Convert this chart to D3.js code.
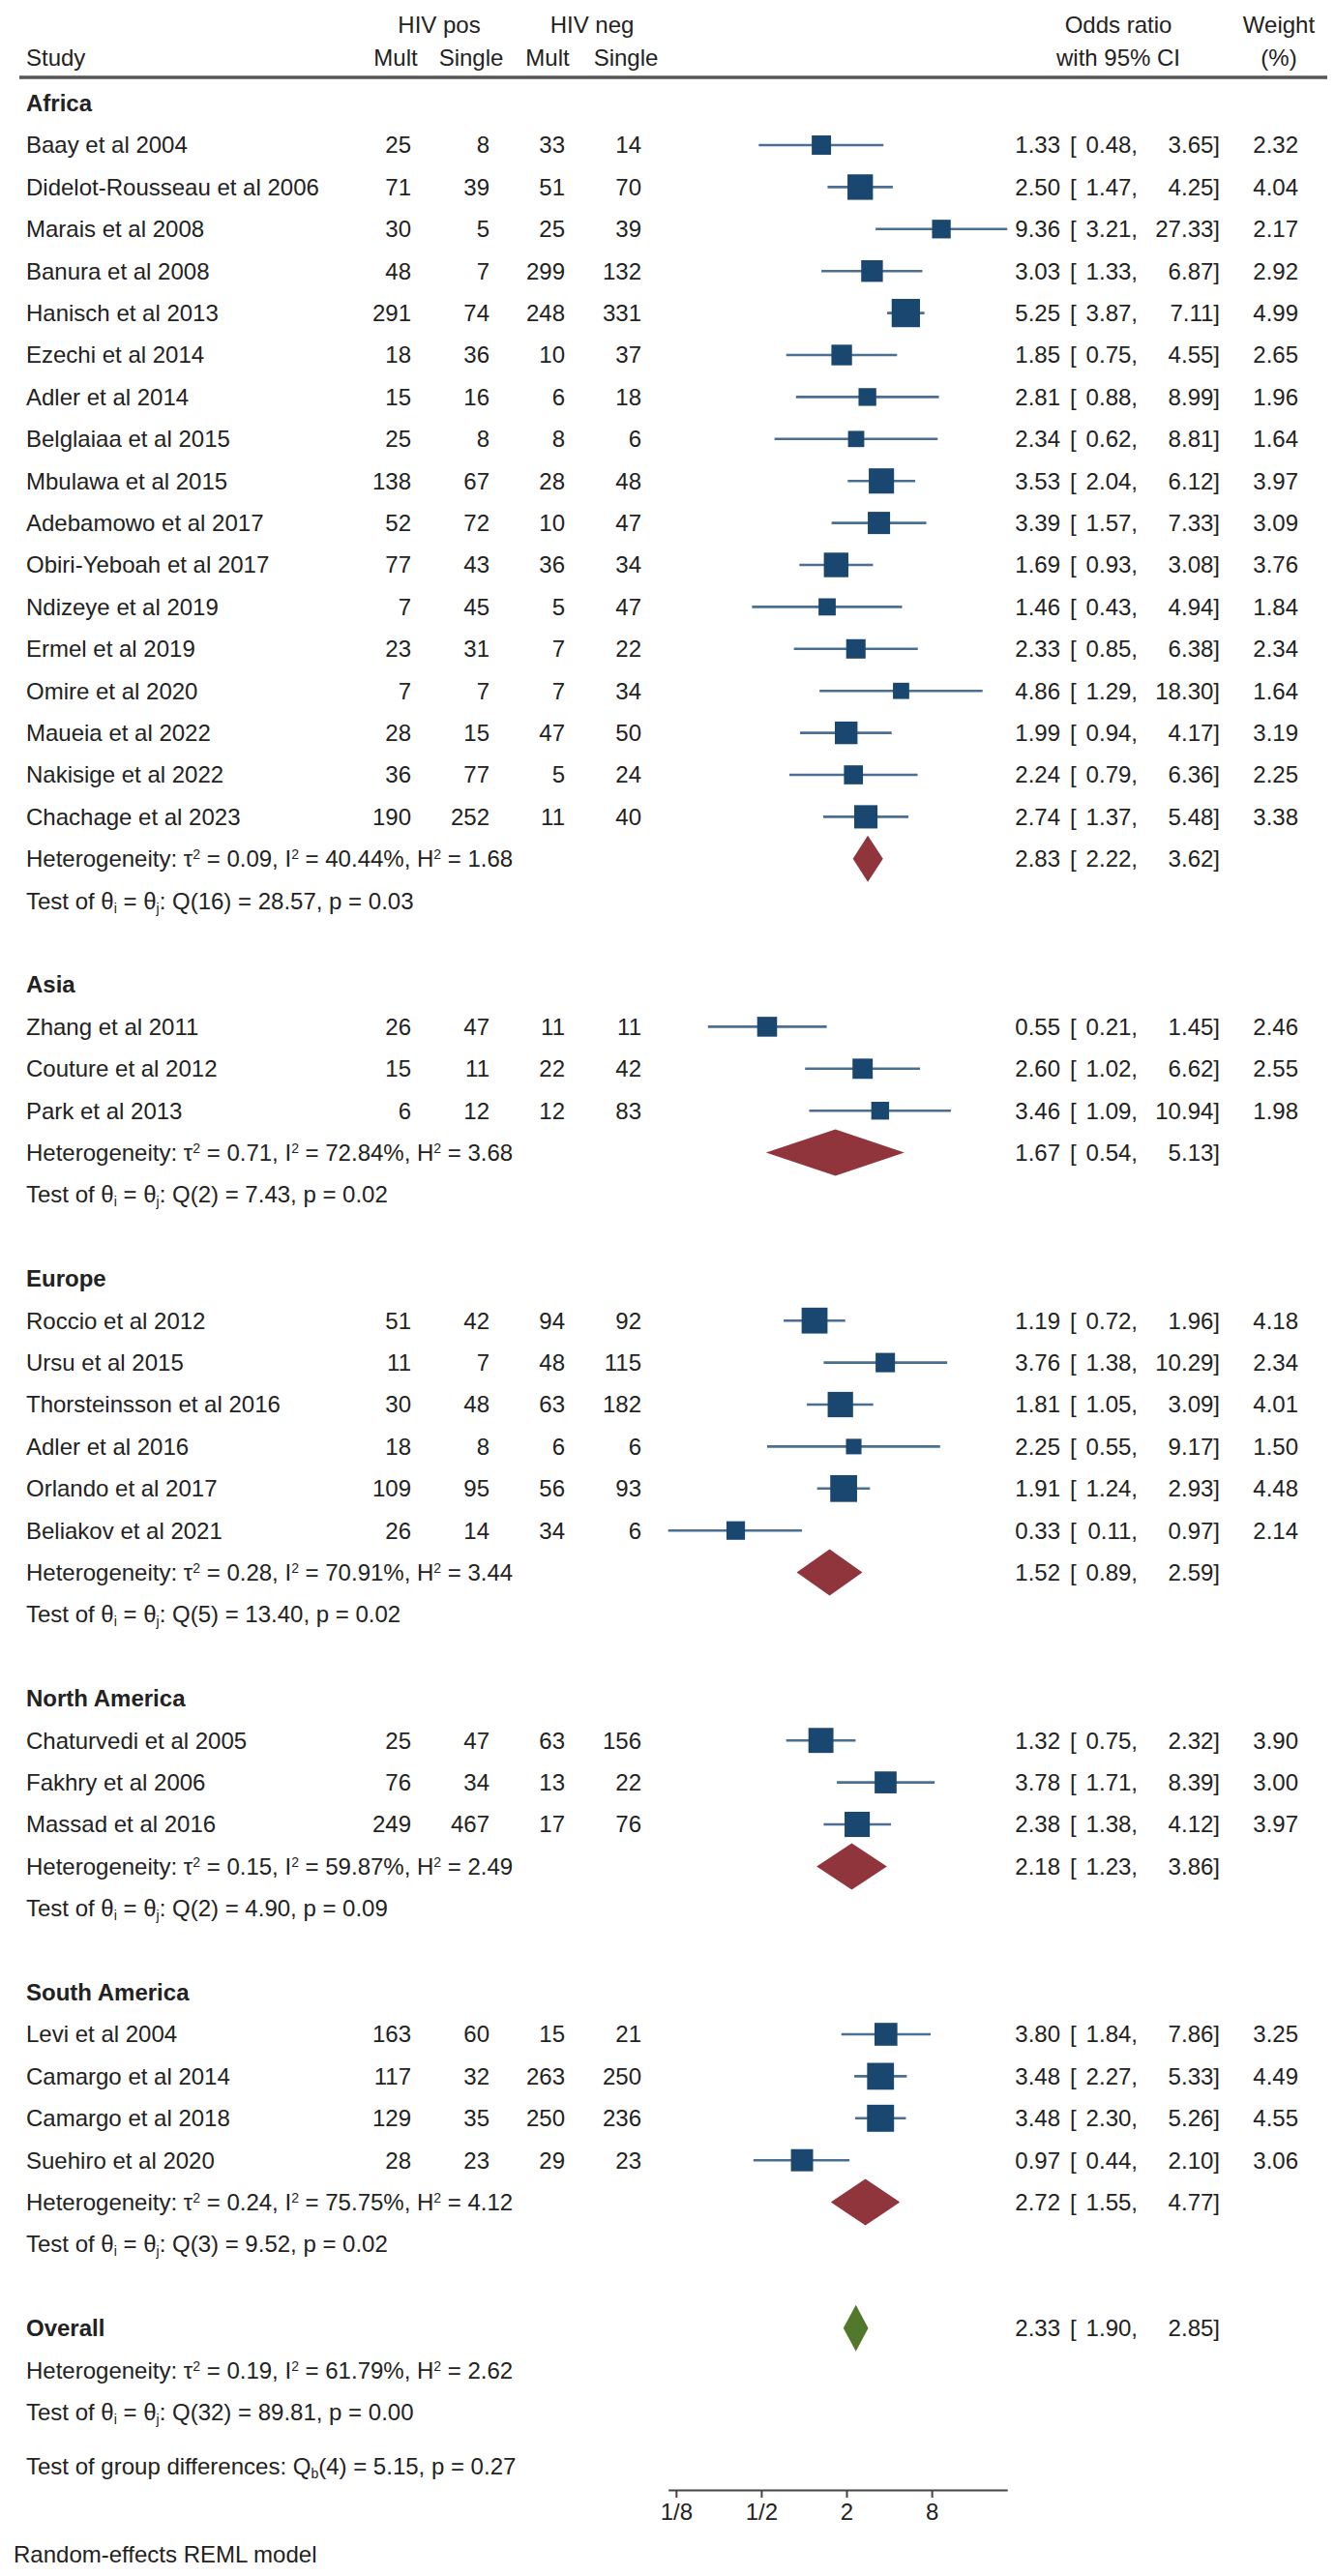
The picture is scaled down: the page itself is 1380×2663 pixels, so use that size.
<!DOCTYPE html>
<html>
<head>
<meta charset="utf-8">
<script src="https://cdn.jsdelivr.net/npm/d3@7"></script>
<style>
  html, body { margin: 0; padding: 0; background: #fff; }
  svg text { font-family: "Liberation Sans", Arial, Helvetica, sans-serif; fill: #222; }
</style>
</head>
<body>
<svg id="chart" width="1380" height="2663"></svg>
<script>
// ---------------- DATA ----------------
const groupNames = ["Africa", "Asia", "Europe", "North America", "South America"];

const studies = [
  "Baay et al 2004", "Didelot-Rousseau et al 2006", "Marais et al 2008", "Banura et al 2008",
  "Hanisch et al 2013", "Ezechi et al 2014", "Adler et al 2014", "Belglaiaa et al 2015",
  "Mbulawa et al 2015", "Adebamowo et al 2017", "Obiri-Yeboah et al 2017", "Ndizeye et al 2019",
  "Ermel et al 2019", "Omire et al 2020", "Maueia et al 2022", "Nakisige et al 2022",
  "Chachage et al 2023",
  "Zhang et al 2011", "Couture et al 2012", "Park et al 2013",
  "Roccio et al 2012", "Ursu et al 2015", "Thorsteinsson et al 2016", "Adler et al 2016",
  "Orlando et al 2017", "Beliakov et al 2021",
  "Chaturvedi et al 2005", "Fakhry et al 2006", "Massad et al 2016",
  "Levi et al 2004", "Camargo et al 2014", "Camargo et al 2018", "Suehiro et al 2020"
];
const studyGroup = [
  0,0,0,0,0,0,0,0,0,0,0,0,0,0,0,0,0,
  1,1,1,
  2,2,2,2,2,2,
  3,3,3,
  4,4,4,4
];
const hivPosMult   = [25,71,30,48,291,18,15,25,138,52,77,7,23,7,28,36,190, 26,15,6, 51,11,30,18,109,26, 25,76,249, 163,117,129,28];
const hivPosSingle = [8,39,5,7,74,36,16,8,67,72,43,45,31,7,15,77,252, 47,11,12, 42,7,48,8,95,14, 47,34,467, 60,32,35,23];
const hivNegMult   = [33,51,25,299,248,10,6,8,28,10,36,5,7,7,47,5,11, 11,22,12, 94,48,63,6,56,34, 63,13,17, 15,263,250,29];
const hivNegSingle = [14,70,39,132,331,37,18,6,48,47,34,47,22,34,50,24,40, 11,42,83, 92,115,182,6,93,6, 156,22,76, 21,250,236,23];
const oddsRatio = [1.33,2.50,9.36,3.03,5.25,1.85,2.81,2.34,3.53,3.39,1.69,1.46,2.33,4.86,1.99,2.24,2.74, 0.55,2.60,3.46, 1.19,3.76,1.81,2.25,1.91,0.33, 1.32,3.78,2.38, 3.80,3.48,3.48,0.97];
const ciLower   = [0.48,1.47,3.21,1.33,3.87,0.75,0.88,0.62,2.04,1.57,0.93,0.43,0.85,1.29,0.94,0.79,1.37, 0.21,1.02,1.09, 0.72,1.38,1.05,0.55,1.24,0.11, 0.75,1.71,1.38, 1.84,2.27,2.30,0.44];
const ciUpper   = [3.65,4.25,27.33,6.87,7.11,4.55,8.99,8.81,6.12,7.33,3.08,4.94,6.38,18.30,4.17,6.36,5.48, 1.45,6.62,10.94, 1.96,10.29,3.09,9.17,2.93,0.97, 2.32,8.39,4.12, 7.86,5.33,5.26,2.10];
const weightPct = [2.32,4.04,2.17,2.92,4.99,2.65,1.96,1.64,3.97,3.09,3.76,1.84,2.34,1.64,3.19,2.25,3.38, 2.46,2.55,1.98, 4.18,2.34,4.01,1.50,4.48,2.14, 3.90,3.00,3.97, 3.25,4.49,4.55,3.06];

const groupOR    = [2.83, 1.67, 1.52, 2.18, 2.72];
const groupLower = [2.22, 0.54, 0.89, 1.23, 1.55];
const groupUpper = [3.62, 5.13, 2.59, 3.86, 4.77];
const groupTau2  = ["0.09", "0.71", "0.28", "0.15", "0.24"];
const groupI2    = ["40.44", "72.84", "70.91", "59.87", "75.75"];
const groupH2    = ["1.68", "3.68", "3.44", "2.49", "4.12"];
const groupQdf   = [16, 2, 5, 2, 3];
const groupQ     = ["28.57", "7.43", "13.40", "4.90", "9.52"];
const groupP     = ["0.03", "0.02", "0.02", "0.09", "0.02"];

const overallOR = 2.33, overallLower = 1.90, overallUpper = 2.85;
const overallTau2 = "0.19", overallI2 = "61.79", overallH2 = "2.62";
const overallQdf = 32, overallQ = "89.81", overallP = "0.00";
const groupDiffDf = 4, groupDiffQ = "5.15", groupDiffP = "0.27";

const tickValues = [0.125, 0.5, 2, 8];
const tickLabels = ["1/8", "1/2", "2", "8"];

// ---------------- LAYOUT ----------------
const svg = d3.select("#chart");
const FS = 24;
const navy = "#1a476f";
const ciColor = "#4b6e93";
const maroon = "#90353b";
const green = "#52792b";

const x = d3.scaleLog().domain([0.11, 27.33]).range([690.7, 1041.2]);
const rowPitch = 43.4;
const y = d3.scaleLinear().domain([0, 1]).range([150, 150 + rowPitch]);

const colX = { study: 27, posMult: 425, posSingle: 506, negMult: 584, negSingle: 663,
               or: 1096, brk: 1106, lo: 1176, hi: 1261, w: 1342 };

// Build rows
const rows = [];
let idx = -1;
groupNames.forEach((g, gi) => {
  rows.push({ type: "header", label: g, i: idx }); idx++;
  studies.forEach((s, si) => {
    if (studyGroup[si] === gi) { rows.push({ type: "study", si, i: idx }); idx++; }
  });
  rows.push({ type: "het", gi, i: idx }); idx++;
  rows.push({ type: "test", gi, i: idx }); idx++;
  idx++; // blank
});
rows.push({ type: "overallHeader", i: idx }); idx++;
rows.push({ type: "overallHet", i: idx }); idx++;
rows.push({ type: "overallTest", i: idx }); idx++;
const groupDiffIdx = idx + 0.3;

function txt(xp, yp, s, anchor, weight) {
  return svg.append("text").attr("x", xp).attr("y", yp).attr("dy", "0.35em")
    .attr("font-size", FS).attr("text-anchor", anchor || "start")
    .attr("font-weight", weight || "normal").text(s);
}

// Header
txt(colX.study, 60, "Study");
txt(454, 26, "HIV pos", "middle");
txt(612, 26, "HIV neg", "middle");
txt(409, 60, "Mult", "middle");
txt(487, 60, "Single", "middle");
txt(566, 60, "Mult", "middle");
txt(647, 60, "Single", "middle");
txt(1156, 26, "Odds ratio", "middle");
txt(1156, 60, "with 95% CI", "middle");
txt(1322, 26, "Weight", "middle");
txt(1322, 60, "(%)", "middle");
svg.append("line").attr("x1", 20).attr("x2", 1372).attr("y1", 80).attr("y2", 80)
  .attr("stroke", "#555").attr("stroke-width", 3.5);

function ciText(yp, or, lo, hi) {
  txt(colX.or, yp, or.toFixed(2), "end");
  txt(colX.brk, yp, "[", "start");
  txt(colX.lo, yp, lo.toFixed(2) + ",", "end");
  txt(colX.hi, yp, hi.toFixed(2) + "]", "end");
}

function hetText(yp, tau2, i2, h2) {
  const t = svg.append("text").attr("x", colX.study).attr("y", yp).attr("dy", "0.35em").attr("font-size", FS);
  t.append("tspan").text("Heterogeneity: \u03c4");
  t.append("tspan").attr("font-size", 14).attr("baseline-shift", "60%").text("2");
  t.append("tspan").text(" = " + tau2 + ", I");
  t.append("tspan").attr("font-size", 14).attr("baseline-shift", "60%").text("2");
  t.append("tspan").text(" = " + i2 + "%, H");
  t.append("tspan").attr("font-size", 14).attr("baseline-shift", "60%").text("2");
  t.append("tspan").text(" = " + h2);
}
function testText(yp, df, q, p) {
  const t = svg.append("text").attr("x", colX.study).attr("y", yp).attr("dy", "0.35em").attr("font-size", FS);
  t.append("tspan").text("Test of \u03b8");
  t.append("tspan").attr("font-size", 14).attr("baseline-shift", "-25%").text("i");
  t.append("tspan").text(" = \u03b8");
  t.append("tspan").attr("font-size", 14).attr("baseline-shift", "-25%").text("j");
  t.append("tspan").text(": Q(" + df + ") = " + q + ", p = " + p);
}
function diamond(yp, lo, est, hi, color) {
  const h = 24;
  const pts = [[x(lo), yp], [x(est), yp - h], [x(hi), yp], [x(est), yp + h]];
  svg.append("path").attr("d", "M" + pts.map(p => p.join(",")).join("L") + "Z").attr("fill", color);
}

rows.forEach(r => {
  const yp = y(r.i);
  if (r.type === "header") {
    txt(colX.study, yp, r.label, "start", "bold");
  } else if (r.type === "study") {
    const s = r.si;
    txt(colX.study, yp, studies[s]);
    txt(colX.posMult, yp, hivPosMult[s], "end");
    txt(colX.posSingle, yp, hivPosSingle[s], "end");
    txt(colX.negMult, yp, hivNegMult[s], "end");
    txt(colX.negSingle, yp, hivNegSingle[s], "end");
    svg.append("line").attr("x1", x(ciLower[s])).attr("x2", x(ciUpper[s]))
      .attr("y1", yp).attr("y2", yp).attr("stroke", ciColor).attr("stroke-width", 2.6);
    const side = 13.1 * Math.sqrt(weightPct[s]);
    svg.append("rect").attr("x", x(oddsRatio[s]) - side / 2).attr("y", yp - side / 2)
      .attr("width", side).attr("height", side).attr("fill", navy);
    ciText(yp, oddsRatio[s], ciLower[s], ciUpper[s]);
    txt(colX.w, yp, weightPct[s].toFixed(2), "end");
  } else if (r.type === "het") {
    const g = r.gi;
    hetText(yp, groupTau2[g], groupI2[g], groupH2[g]);
    diamond(yp, groupLower[g], groupOR[g], groupUpper[g], maroon);
    ciText(yp, groupOR[g], groupLower[g], groupUpper[g]);
  } else if (r.type === "test") {
    const g = r.gi;
    testText(yp, groupQdf[g], groupQ[g], groupP[g]);
  } else if (r.type === "overallHeader") {
    txt(colX.study, yp, "Overall", "start", "bold");
    diamond(yp, overallLower, overallOR, overallUpper, green);
    ciText(yp, overallOR, overallLower, overallUpper);
  } else if (r.type === "overallHet") {
    hetText(yp, overallTau2, overallI2, overallH2);
  } else if (r.type === "overallTest") {
    testText(yp, overallQdf, overallQ, overallP);
  }
});

// Group differences
{
  const yp = y(groupDiffIdx);
  const t = svg.append("text").attr("x", colX.study).attr("y", yp).attr("dy", "0.35em").attr("font-size", FS);
  t.append("tspan").text("Test of group differences: Q");
  t.append("tspan").attr("font-size", 14).attr("baseline-shift", "-25%").text("b");
  t.append("tspan").text("(" + groupDiffDf + ") = " + groupDiffQ + ", p = " + groupDiffP);
}

// Axis
const axisY = 2574;
const axis = d3.axisBottom(x).tickValues(tickValues).tickFormat((d, i) => tickLabels[i])
  .tickSize(8).tickSizeOuter(0).tickPadding(6);
const ag = svg.append("g").attr("transform", `translate(0,${axisY})`).call(axis);
ag.select(".domain").attr("stroke", "#444").attr("stroke-width", 2.2);
ag.selectAll(".tick line").attr("stroke", "#444").attr("stroke-width", 2);
ag.selectAll(".tick text").attr("font-size", FS).attr("fill", "#222")
  .attr("font-family", '"Liberation Sans", Arial, sans-serif');

// Footnote
svg.append("text").attr("x", 14).attr("y", 2641).attr("dy", "0.35em").attr("font-size", FS)
  .text("Random-effects REML model");
</script>
</body>
</html>
